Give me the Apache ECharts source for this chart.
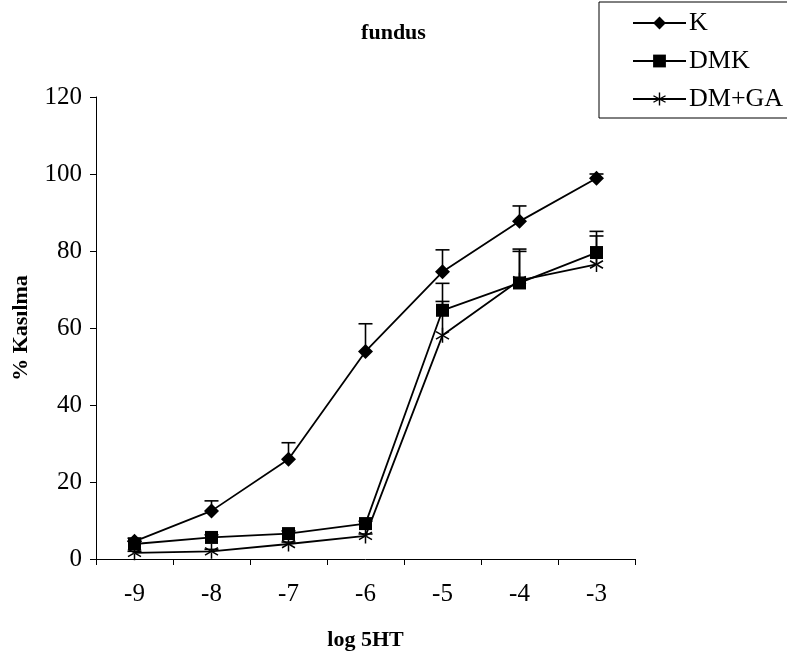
<!DOCTYPE html>
<html>
<head>
<meta charset="utf-8">
<script src="https://cdn.jsdelivr.net/npm/echarts@6/dist/echarts.min.js"></script>
<style>
html,body{margin:0;padding:0;background:#fff;}
#chart{width:787px;height:656px;}
</style>
</head>
<body>
<div id="chart"></div>
<script>
const categories = ['-9', '-8', '-7', '-6', '-5', '-4', '-3'];
const seriesNames = ['K', 'DMK', 'DM+GA'];
const kValues = [4.6, 12.5, 25.9, 53.9, 74.6, 87.7, 98.9];
const kErrTop = [5.4, 15.1, 30.2, 61.1, 80.3, 91.7, 100.0];
const dmkValues = [3.9, 5.6, 6.6, 9.2, 64.6, 71.7, 79.6];
const dmkErrTop = [4.6, 6.3, 7.3, 9.8, 71.6, 80.5, 85.1];
const dmgaValues = [1.6, 2.0, 3.9, 6.0, 58.1, 72.4, 76.5];
const dmgaErrTop = [2.0, 2.5, 4.4, 6.5, 66.9, 79.9, 83.9];
const yTicks = { min: 0, max: 120, interval: 20 };

const FONT = '"Liberation Serif", "Times New Roman", serif';
const asterisk = 'path://M-1,-10L1,-10L1,10L-1,10Z' +
  'M8.16,5.87L9.16,4.13L-8.16,-5.87L-9.16,-4.13Z' +
  'M9.16,-4.13L8.16,-5.87L-9.16,4.13L-8.16,5.87Z';

function errData(vals, tops) {
  return vals.map((v, i) => [i, v, tops[i]]);
}
function errSeries(vals, tops) {
  return {
    type: 'custom',
    silent: true,
    z: 1,
    data: errData(vals, tops),
    renderItem: function (params, api) {
      const p0 = api.coord([api.value(0), api.value(1)]);
      const p1 = api.coord([api.value(0), api.value(2)]);
      const hw = 7;
      return {
        type: 'group',
        children: [
          { type: 'line', shape: { x1: p0[0], y1: p0[1], x2: p1[0], y2: p1[1] }, style: { stroke: '#000', lineWidth: 1.6 } },
          { type: 'line', shape: { x1: p1[0] - hw, y1: p1[1], x2: p1[0] + hw, y2: p1[1] }, style: { stroke: '#000', lineWidth: 1.6 } }
        ]
      };
    }
  };
}

const chart = echarts.init(document.getElementById('chart'));
chart.setOption({
  backgroundColor: '#fff',
  animation: false,
  title: {
    text: 'fundus',
    left: 'center',
    top: 17,
    textStyle: { fontFamily: FONT, fontWeight: 'bold', fontSize: 22, color: '#000' }
  },
  legend: {
    orient: 'vertical',
    left: 599,
    top: 2,
    padding: [8, 40, 6, 33],
    itemWidth: 53,
    itemHeight: 16,
    itemGap: 12,
    borderColor: '#000',
    borderWidth: 1,
    data: seriesNames,
    textStyle: { fontFamily: FONT, fontSize: 26, color: '#000', lineHeight: 26, padding: [0, 0, 0, -2] }
  },
  grid: { left: 96, right: 152, top: 97, bottom: 95, containLabel: false },
  xAxis: {
    type: 'category',
    data: categories,
    boundaryGap: true,
    name: 'log 5HT',
    nameLocation: 'middle',
    nameGap: 70,
    nameTextStyle: { fontFamily: FONT, fontWeight: 'bold', fontSize: 22, color: '#000' },
    axisLine: { lineStyle: { color: '#000', width: 1 } },
    axisTick: { show: true, length: 6, lineStyle: { color: '#000' } },
    axisLabel: { fontFamily: FONT, fontSize: 25, color: '#000', margin: 23 },
    splitLine: { show: false }
  },
  yAxis: {
    type: 'value',
    min: yTicks.min,
    max: yTicks.max,
    interval: yTicks.interval,
    name: '% Kasılma',
    nameLocation: 'middle',
    nameGap: 64,
    nameTextStyle: { fontFamily: FONT, fontWeight: 'bold', fontSize: 22, color: '#000' },
    axisLine: { show: true, lineStyle: { color: '#000', width: 1 } },
    axisTick: { show: true, length: 6, lineStyle: { color: '#000' } },
    axisLabel: { fontFamily: FONT, fontSize: 25, color: '#000', margin: 14 },
    splitLine: { show: false }
  },
  series: [
    errSeries(kValues, kErrTop),
    errSeries(dmkValues, dmkErrTop),
    errSeries(dmgaValues, dmgaErrTop),
    {
      name: 'K', type: 'line', data: kValues, z: 3,
      symbol: 'diamond', symbolSize: 15,
      lineStyle: { color: '#000', width: 1.8 },
      itemStyle: { color: '#000' }
    },
    {
      name: 'DMK', type: 'line', data: dmkValues, z: 3,
      symbol: 'rect', symbolSize: 13,
      lineStyle: { color: '#000', width: 1.8 },
      itemStyle: { color: '#000' }
    },
    {
      name: 'DM+GA', type: 'line', data: dmgaValues, z: 3,
      symbol: asterisk, symbolSize: 15, symbolKeepAspect: true,
      lineStyle: { color: '#000', width: 1.8 },
      itemStyle: { color: '#000' }
    }
  ]
});
</script>
</body>
</html>
